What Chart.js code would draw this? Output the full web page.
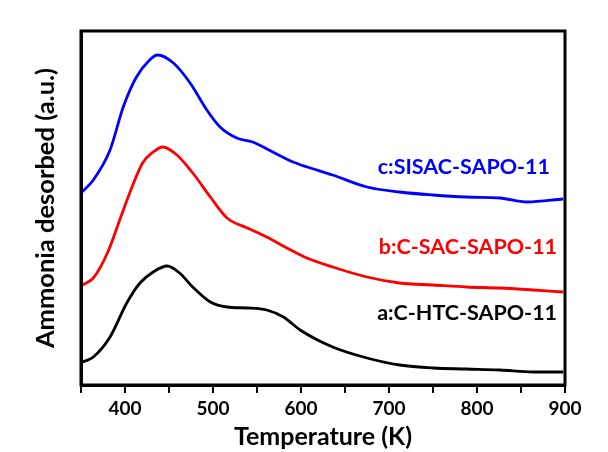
<!DOCTYPE html>
<html>
<head>
<meta charset="utf-8">
<script src="https://cdn.jsdelivr.net/npm/chart.js@4"></script>
<style>
  body { margin: 0; background: #fff; }
  canvas { display: block; }
</style>
</head>
<body>
<canvas id="chart" width="608" height="452"></canvas>
<script>
// temperatures (K) and desorption signal (a.u.)
const tempA = [352, 364, 383, 402, 417, 432, 448, 462, 477, 497, 516, 539, 561, 580, 599, 636, 675, 712, 750, 788, 826, 864, 898];
const sigA  = [23, 28, 48, 82, 102, 113, 119, 112, 98, 83, 78, 77, 75, 68, 55, 38, 27, 20, 17, 16, 15, 13, 13];

const tempB = [352, 364, 380, 394, 408, 420, 432, 443, 459, 477, 497, 516, 539, 561, 584, 604, 636, 675, 712, 750, 788, 826, 864, 898];
const sigB  = [100, 107, 132, 165, 198, 222, 233, 238, 230, 212, 188, 167, 157, 148, 137, 128, 118, 108, 102, 100, 98, 97, 95, 93];

const tempC = [350, 364, 383, 398, 413, 428, 437, 455, 474, 493, 508, 527, 545, 568, 591, 607, 636, 675, 712, 750, 788, 826, 857, 898];
const sigC  = [192, 205, 235, 278, 308, 325, 330, 322, 302, 275, 258, 247, 243, 233, 223, 218, 210, 198, 193, 190, 188, 187, 183, 186];

const seriesNames = ['a:C-HTC-SAPO-11', 'b:C-SAC-SAPO-11', 'c:SISAC-SAPO-11'];
const seriesColors = ['#000000', '#ff0000', '#0000ff'];
// label anchors (right end) in data units
const labelTemp = [891, 891, 883];
const labelSig = [72, 138, 218];

function pts(xs, ys) {
    return xs.map((x, i) => ({ x: x, y: ys[i] }));
}

const frame = {
    id: 'frame',
    afterDatasetsDraw(chart) {
        const a = chart.chartArea;
        const ctx = chart.ctx;
        ctx.save();
        ctx.strokeStyle = '#000';
        ctx.lineWidth = 3;
        ctx.strokeRect(a.left, a.top, a.right - a.left, a.bottom - a.top);
        ctx.font = 'bold 21.5px Lato';
        ctx.textAlign = 'right';
        ctx.textBaseline = 'middle';
        seriesNames.forEach((name, i) => {
            ctx.fillStyle = seriesColors[i];
            ctx.fillText(name, chart.scales.x.getPixelForValue(labelTemp[i]), chart.scales.y.getPixelForValue(labelSig[i]));
        });
        ctx.restore();
    }
};

const data = {
    datasets: [
        { label: seriesNames[0], data: pts(tempA, sigA), borderColor: seriesColors[0] },
        { label: seriesNames[1], data: pts(tempB, sigB), borderColor: seriesColors[1] },
        { label: seriesNames[2], data: pts(tempC, sigC), borderColor: seriesColors[2] }
    ]
};

const options = {
    responsive: false,
    animation: false,
    layout: { padding: { top: 31, right: 43, left: 0, bottom: 0 } },
    elements: {
        point: { radius: 0 },
        line: { borderWidth: 2.8, cubicInterpolationMode: 'monotone' }
    },
    plugins: {
        legend: { display: false },
        tooltip: { enabled: false }
    },
    scales: {
        x: {
            type: 'linear',
            min: 350,
            max: 900,
            afterFit: (s) => { s.height = 67; },
            border: { display: true, color: '#000', width: 3 },
            grid: { drawOnChartArea: false, drawTicks: true, tickLength: 8, color: '#000', lineWidth: 2 },
            ticks: {
                stepSize: 50,
                color: '#000',
                padding: 4,
                font: { family: 'Lato', size: 19, weight: 'bold' },
                callback: (v) => (v % 100 === 0 ? v : '')
            },
            title: {
                display: true,
                text: 'Temperature (K)',
                color: '#000',
                font: { family: 'Lato', size: 25, weight: 'bold' },
                padding: { top: 0, bottom: 0 }
            }
        },
        y: {
            min: 0,
            max: 354,
            afterFit: (s) => { s.width = 81; },
            border: { display: true, color: '#000', width: 3 },
            grid: { display: false },
            ticks: { display: false },
            title: {
                display: true,
                text: 'Ammonia desorbed (a.u.)',
                color: '#000',
                font: { family: 'Lato', size: 25.5, weight: 'bold' },
                padding: { top: 30, bottom: 0 }
            }
        }
    }
};

const chart = new Chart(document.getElementById('chart'), {
    type: 'line',
    data: data,
    options: options,
    plugins: [frame]
});
</script>
</body>
</html>
